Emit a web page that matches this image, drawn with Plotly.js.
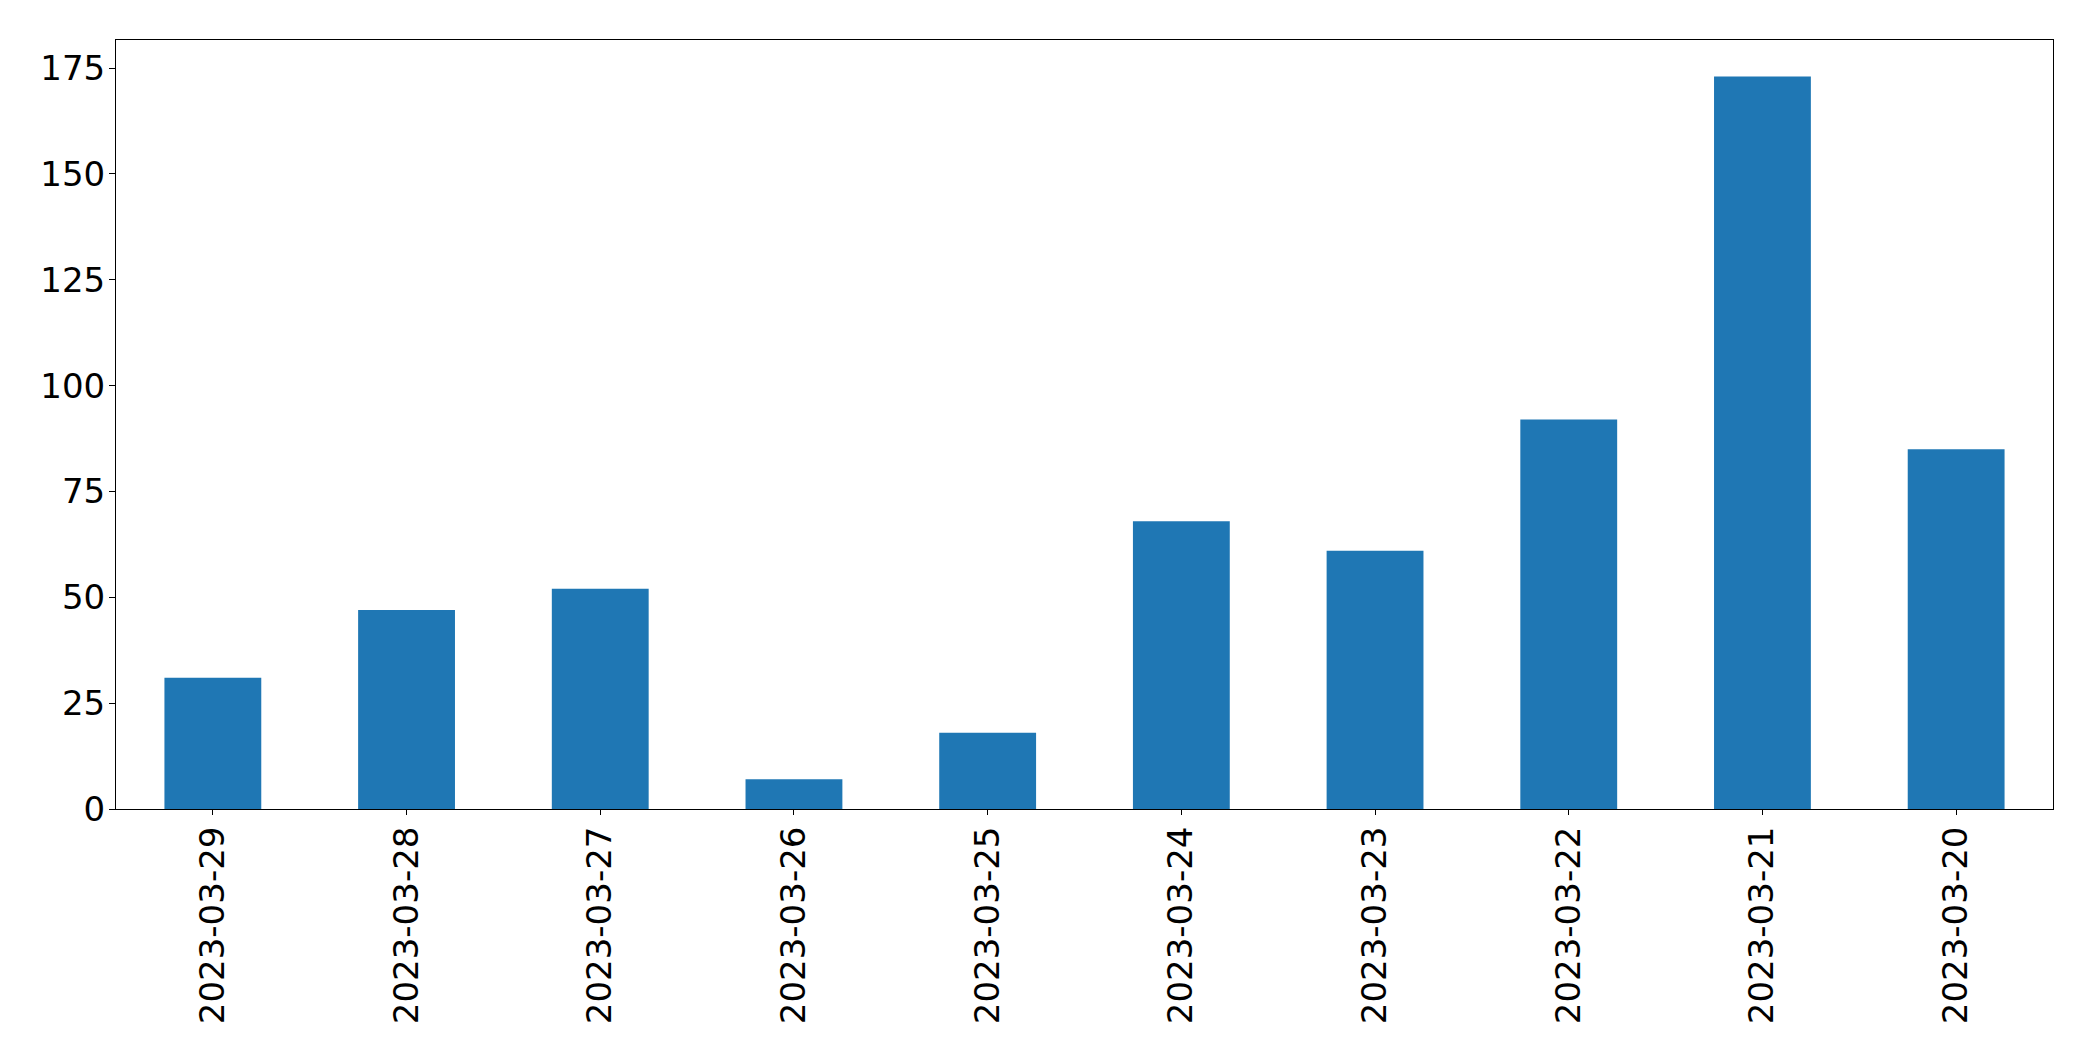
<!DOCTYPE html>
<html>
<head>
<meta charset="utf-8">
<script src="https://cdn.plot.ly/plotly-3.0.1.min.js"></script>
<style>html,body{margin:0;padding:0;background:#fff;}#chart{width:2093px;height:1061px;}</style>
</head>
<body>
<div id="chart"></div>
<script>
const dates = ["2023-03-29","2023-03-28","2023-03-27","2023-03-26","2023-03-25","2023-03-24","2023-03-23","2023-03-22","2023-03-21","2023-03-20"];
const counts = [31, 47, 52, 7, 18, 68, 61, 92, 173, 85];
const yTicks = [0, 25, 50, 75, 100, 125, 150, 175];

const font = {family: "DejaVu Sans", size: 34, color: "#000"};

Plotly.newPlot("chart", [{
  type: "bar",
  x: dates,
  y: counts,
  width: 0.5,
  marker: {color: "#1f77b4", line: {width: 0}},
  hoverinfo: "x+y"
}], {
  width: 2093, height: 1061,
  margin: {l: 116, r: 40, t: 40, b: 252, pad: 0},
  paper_bgcolor: "#fff", plot_bgcolor: "#fff",
  showlegend: false,
  font: font,
  xaxis: {
    type: "category",
    range: [-0.5, 9.5],
    tickangle: -90,
    ticks: "outside", ticklen: 5, tickwidth: 1, tickcolor: "#000",
    showline: true, linecolor: "#000", linewidth: 1, mirror: true,
    showgrid: false, zeroline: false,
    tickfont: font,
    ticklabelstandoff: -2
  },
  yaxis: {
    range: [0, 181.65],
    tickvals: yTicks,
    ticktext: yTicks.map(String),
    ticks: "outside", ticklen: 6, tickwidth: 1, tickcolor: "#000",
    showline: true, linecolor: "#000", linewidth: 1, mirror: true,
    showgrid: false, zeroline: false,
    tickfont: font,
    ticklabelstandoff: -3
  }
}, {displayModeBar: false, staticPlot: true});
</script>
</body>
</html>
